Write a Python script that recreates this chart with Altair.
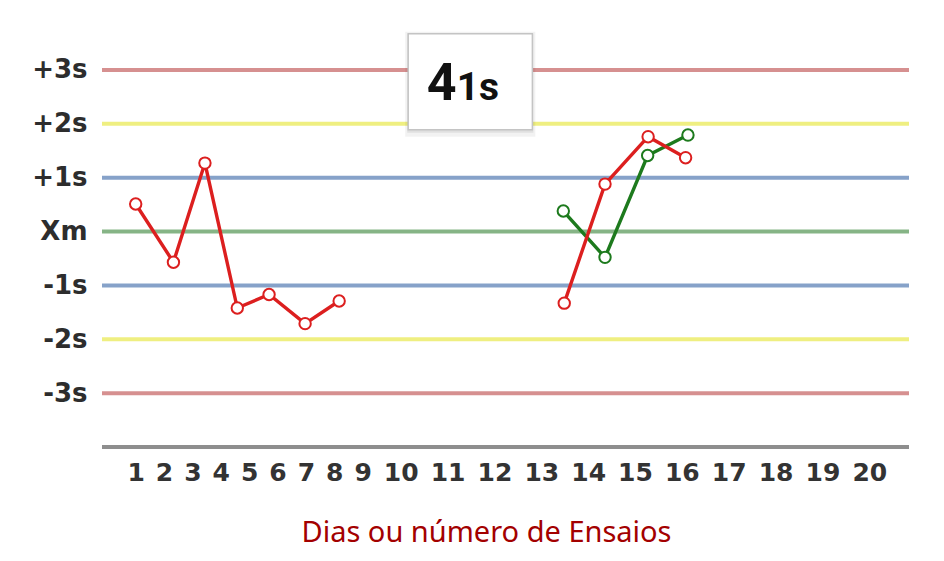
import altair as alt
import pandas as pd

# ---- data ----
level_values = [3, 2, 1, 0, -1, -2, -3, -4]
level_names = ["+3s", "+2s", "+1s", "Xm", "-1s", "-2s", "-3s", "base"]
level_colors = ["#d48a8a", "#eeee7a", "#7f9dc6", "#7fb07f", "#7f9dc6", "#eeee7a", "#d48a8a", "#888888"]

x_ticks = list(range(1, 21))

days_a = [1.0, 2.33, 3.44, 4.58, 5.70, 6.97, 8.17]
vals_a = [0.51, -0.57, 1.27, -1.42, -1.17, -1.71, -1.29]
days_b = [13.49, 14.36, 15.28, 16.08]
vals_b = [-1.33, 0.88, 1.76, 1.37]
days_c = [13.47, 14.36, 15.27, 16.13]
vals_c = [0.38, -0.48, 1.41, 1.79]

series_names = ["vermelho", "verde"]
series_colors = ["#dc1f1f", "#1d7a1d"]

box_x = [10.16]
box_x2 = [12.81]
box_y = [3.67]
box_y2 = [1.89]
box_text_x = [11.195]
box_text_y = [2.443]
box_big = ["4"]
box_small = ["1s"]

x_title = "Dias ou número de Ensaios"

# ---- tables ----
levels = pd.DataFrame({"level": level_values, "name": level_names})
pts = pd.concat([
    pd.DataFrame({"day": days_c, "val": vals_c, "serie": "verde", "run": "c"}),
    pd.DataFrame({"day": days_a, "val": vals_a, "serie": "vermelho", "run": "a"}),
    pd.DataFrame({"day": days_b, "val": vals_b, "serie": "vermelho", "run": "b"}),
], ignore_index=True)
box = pd.DataFrame({"x": box_x, "x2": box_x2, "y": box_y, "y2": box_y2,
                    "tx": box_text_x, "ty": box_text_y, "big": box_big, "small": box_small})

label_map = {v: n for v, n in zip(level_values, level_names) if n != "base"}
label_expr = " : ".join(f"datum.value == {v} ? '{n}'" for v, n in label_map.items()) + " : ''"

W, H = 807, 431
xscale = alt.Scale(domain=[1, 9, 10, 20], range=[33.7, 260.7, 298.7, 767.3])
yscale = alt.Scale(domain=[-4, 4], nice=False, zero=False)

x_axis = alt.Axis(values=x_ticks, format="d", ticks=False, domain=False, grid=False,
                  labelFont="DejaVu Sans", labelFontWeight="bold", labelFontSize=25,
                  labelColor="#333333", labelPadding=13, labelOverlap=False, labelFlush=False,
                  title=x_title, titleFont="Noto Sans", titleFontWeight="normal",
                  titleFontSize=29, titleColor="#a30000", titleX=384, titleY=94,
                  titleAlign="center", titleBaseline="alphabetic")
y_axis = alt.Axis(values=[3, 2, 1, 0, -1, -2, -3], labelExpr=label_expr, ticks=False,
                  domain=False, grid=False, labelFont="DejaVu Sans", labelFontWeight="bold",
                  labelFontSize=26, labelColor="#2d2d2d", labelPadding=15, title=None)

rules = alt.Chart(levels).mark_rule(strokeWidth=4, opacity=0.95).encode(
    y=alt.Y("level:Q", scale=yscale, axis=y_axis),
    color=alt.Color("name:N", scale=alt.Scale(domain=level_names, range=level_colors), legend=None),
)

axis_holder = alt.Chart(pts).mark_point(opacity=0).encode(
    x=alt.X("day:Q", scale=xscale, axis=x_axis),
    y=alt.Y("val:Q", scale=yscale),
)

base_box = alt.Chart(box)
shadow1 = base_box.mark_rect(fill="#000000", opacity=0.05, xOffset=-3, x2Offset=3, yOffset=-2, y2Offset=7).encode(
    x=alt.X("x:Q", scale=xscale), x2="x2:Q", y=alt.Y("y:Q", scale=yscale), y2="y2:Q")
shadow2 = base_box.mark_rect(fill="#000000", opacity=0.07, xOffset=-1, x2Offset=1, yOffset=0, y2Offset=3).encode(
    x=alt.X("x:Q", scale=xscale), x2="x2:Q", y=alt.Y("y:Q", scale=yscale), y2="y2:Q")
rect = base_box.mark_rect(fill="white", stroke="#c4c4c4", strokeWidth=1.5).encode(
    x=alt.X("x:Q", scale=xscale), x2="x2:Q", y=alt.Y("y:Q", scale=yscale), y2="y2:Q")
big = base_box.mark_text(align="right", baseline="alphabetic", fontSize=52, fontWeight="bold",
                         font="Liberation Sans Narrow, Roboto, sans-serif", color="#111111").encode(
    x=alt.X("tx:Q", scale=xscale), y=alt.Y("ty:Q", scale=yscale), text="big:N")
small = base_box.mark_text(align="left", baseline="alphabetic", fontSize=39, fontWeight="bold",
                           font="Liberation Sans Narrow, Roboto, sans-serif", color="#111111").encode(
    x=alt.X("tx:Q", scale=xscale), y=alt.Y("ty:Q", scale=yscale), text="small:N")

stroke_scale = alt.Scale(domain=series_names, range=series_colors)
lines = alt.Chart(pts).mark_line(strokeWidth=3.4).encode(
    x=alt.X("day:Q", scale=xscale), y=alt.Y("val:Q", scale=yscale),
    stroke=alt.Stroke("serie:N", scale=stroke_scale, legend=None), detail="run:N", order="day:Q")
points = alt.Chart(pts).mark_point(filled=True, fill="white", size=130, strokeWidth=2, opacity=1).encode(
    x=alt.X("day:Q", scale=xscale), y=alt.Y("val:Q", scale=yscale),
    stroke=alt.Stroke("serie:N", scale=stroke_scale, legend=None))

chart = alt.layer(rules, axis_holder, shadow1, shadow2, rect, big, small, lines, points).properties(
    width=W, height=H,
    autosize=alt.AutoSizeParams(type="none"),
    padding={"left": 94, "top": 8, "right": 20, "bottom": 105},
    background="white",
).configure_view(stroke=None)

chart.save("out.html", embed_options={"renderer": "svg", "actions": False})
